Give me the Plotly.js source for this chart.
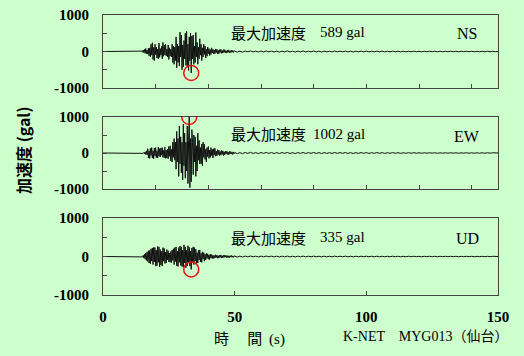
<!DOCTYPE html>
<html>
<head>
<meta charset="utf-8">
<script src="https://cdn.plot.ly/plotly-3.0.1.min.js"></script>
<style>html,body{margin:0;padding:0;background:#ccffcc;}#chart{width:524px;height:356px;}</style>
</head>
<body>
<div id="chart"></div>
<script>
// ---- data ----
const components = ['NS', 'EW', 'UD'];
const peakText = ['589 gal', '1002 gal', '335 gal'];
const xTickVals = [0, 50, 100, 150];
const yTickVals = [-1000, -500, 0, 500, 1000];
const yTickText = ['-1000', '', '0', '', '1000'];

const quietStart = 0;          // record start (s), quiet until fineStart
const fineStart = 14;          // s
const fineDt = 0.25;           // s
const tailStart = 50;          // s
const tailDt = 1;              // s
const recordEnd = 150;         // s

const nsFine = [
  0, 5, -5, 10,  -20, 40, -30, 60,  -50, 80, -60, 40,  -70, 90, -120, 100,
  -150, 200, -100, 240,  -220, 110, -250, 200,  -90, 120, -180, 60,  -200, 230, -160, 80,
  -100, 140, -200, 250,  -130, 180, -90, 200,  -120, 70, -150, 180,  -220, 100, -130, 60,
  -150, 200, -300, 150,  -350, 120, -250, 400,  -450, 200, -300, 150,  -400, 530, -150, 450,
  -500, 180, -420, 300,  -200, 500, -380, 550,  -420, 200, -520, 400,  -250, 500, -589, 420,
  -200, 450, -350, 150,  -300, 520, -150, 250,  -350, 120, -200, 350,  -100, 200, -250, 100,
  -150, 200, -80, 150,  -180, 60, -130, 120,  -60, 80, -110, 50,  -80, 100, -40, 60,
  -70, 40, -60, 70,  -30, 60, -70, 30,  -60, 50, -25, 60,  -50, 25, -45, 50,
  -25, 50, -35, 20,  -45, 35, -20, 45,  -35, 20, -30, 35,  -20, 30, -25, 20
];
const ewFine = [
  0, 0, 5, -5,  10, -10, 15, -20,  30, -40, 60, -50,  120, -140, 60, -150,
  130, -70, 150, -140,  60, -160, 140, -80,  150, -130, 60, -140,  160, -90, 120, -110,
  140, -60, 150, -120,  70, -130, 160, -150,  80, -140, 110, -160,  180, -90, 200, -220,
  100, -250, 300, -120,  400, -200, 300, -450,  600, -250, 400, -650,  750, -300, 450, -550,
  300, -750, 800, -350,  550, -700, 300, -500,  750, -850, 350, 1002,  -960, 400, -800, 650,
  300, -600, 500, -250,  450, -650, 200, -500,  550, -200, 350, -300,  150, -300, 250, -350,
  300, -120, 250, -180,  100, -250, 150, -100,  180, -150, 80, -120,  150, -70, 100, -140,
  120, -60, 130, -90,  50, -80, 90, -40,  80, -70, 40, -60,  70, -35, 60, -70,
  30, -50, 55, -25,  50, -40, 25, -50,  45, -25, 40, -30,  20, -40, 30, -20
];
const udFine = [
  0, 5, -5, 5,  -10, 30, -40, 60,  -70, 90, -100, 120,  -130, 150, -170, 160,
  -190, 200, -120, 220,  -210, 240, -140, 230,  -250, 160, -240, 260,  -150, 250, -270, 180,
  -220, 130, -250, 230,  -120, 210, -180, 110,  -170, 180, -90, 150,  -140, 90, -150, 130,
  -160, 170, -100, 200,  -210, 230, -130, 250,  -240, 140, -260, 230,  -150, 270, -230, 250,
  -260, 160, -280, 300,  -170, 250, -290, 160,  -240, 280, -150, 240,  -250, 140, -335, 220,
  -130, 250, -210, 230,  -120, 190, -210, 100,  -170, 160, -90, 170,  -140, 80, -150, 120,
  -70, 100, -120, 60,  -90, 80, -50, 70,  -70, 40, -80, 60,  -35, 50, -55, 30,
  -50, 25, -40, 45,  -25, 35, -45, 20,  -40, 35, -20, 40,  -35, 20, -35, 30,
  -20, 35, -18, 30,  -25, 20, -30, 18,  -28, 20, -15, 28,  -20, 15, -22, 16
];
const nsTail = [
  12, -15, 10, -18, 14, -10, 16, -12, 10, -15,  13, -11, 15, -9, 12, -14, 10, -16, 11, -10,
  14, -12, 9, -15, 11, -10, 13, -12, 10, -9,  12, -10, 9, -13, 10, -11, 8, -10, 12, -9,
  10, -8, 11, -10, 9, -12, 8, -9, 10, -8,  9, -10, 8, -9, 10, -8, 9, -10, 8, -9,
  10, -8, 9, -10, 8, -9, 8, -7, 9, -8,  7, -9, 8, -7, 9, -6, 8, -8, 7, -8,
  7, -6, 8, -7, 6, -8, 7, -6, 7, -6,  6, -7, 6, -7, 6, -6, 7, -6, 6, -6, 0
];
const ewTail = [
  15, -18, 12, -20, 16, -13, 18, -14, 12, -17,  15, -12, 17, -11, 14, -16, 12, -15, 13, -11,
  15, -14, 10, -16, 12, -11, 14, -13, 11, -10,  13, -11, 10, -14, 11, -12, 9, -11, 13, -10,
  11, -9, 12, -11, 10, -13, 9, -10, 11, -9,  10, -11, 9, -10, 11, -9, 10, -11, 9, -9,
  10, -9, 9, -10, 8, -9, 9, -8, 10, -8,  8, -9, 8, -7, 9, -7, 8, -9, 7, -8,
  8, -7, 8, -7, 7, -8, 7, -6, 8, -7,  7, -7, 6, -7, 7, -6, 7, -6, 6, -7, 0
];
const udTail = [
  12, -13, 10, -14, 11, -9, 13, -10, 9, -12,  11, -9, 12, -8, 10, -11, 9, -12, 10, -9,
  11, -10, 8, -11, 9, -8, 10, -9, 8, -8,  10, -8, 8, -10, 8, -9, 7, -8, 9, -8,
  8, -7, 9, -8, 8, -9, 7, -8, 8, -7,  8, -8, 7, -8, 8, -7, 7, -8, 7, -7,
  8, -7, 7, -8, 6, -7, 7, -6, 7, -6,  6, -7, 6, -6, 7, -6, 6, -6, 6, -6,
  6, -5, 6, -6, 5, -6, 5, -5, 6, -5,  5, -6, 5, -5, 5, -5, 5, -5, 5, -5, 0
];

// ---- build traces ----
function series(fine, tail) {
  const t = [quietStart], v = [0];
  fine.forEach((a, i) => { t.push(fineStart + i * fineDt); v.push(a); });
  tail.forEach((a, i) => { t.push(Math.min(tailStart + i * tailDt, recordEnd)); v.push(a); });
  return {t, v};
}
const allSeries = [series(nsFine, nsTail), series(ewFine, ewTail), series(udFine, udTail)];

const W = 524, H = 356;
const px = x => x / W, py = y => 1 - y / H;
const xDomain = [px(103), px(498)];
const yDomains = [[py(88), py(15)], [py(189), py(117)], [py(295), py(218)]];
const labelY = [32, 134, 237];
const compY = [33, 136, 238];

const traces = [], shapes = [], annotations = [];
const layout = {
  width: W, height: H,
  margin: {l: 0, r: 0, t: 0, b: 0},
  paper_bgcolor: '#ccffcc', plot_bgcolor: '#ccffcc',
  showlegend: false,
  font: {family: 'Liberation Serif, serif', size: 14, color: '#000'}
};

allSeries.forEach((s, k) => {
  const n = k === 0 ? '' : String(k + 1);
  traces.push({
    x: s.t, y: s.v, type: 'scatter', mode: 'lines',
    xaxis: 'x' + n, yaxis: 'y' + n,
    line: {color: '#111', width: 1}, hoverinfo: 'skip'
  });
  const last = k === 2;
  layout['xaxis' + n] = {
    domain: xDomain, anchor: 'y' + n, range: [0, 150],
    showgrid: false, zeroline: false,
    showline: true, mirror: true, linecolor: '#444', linewidth: 1,
    ticks: 'inside', ticklen: 4, tickcolor: '#444',
    tickmode: 'array',
    tickvals: last ? xTickVals : [20, 40, 60, 80, 100, 120, 140],
    showticklabels: last,
    ticklabelstandoff: 8,
    tickfont: {family: 'Liberation Serif, serif', size: 15, weight: 'bold', color: '#000'}
  };
  layout['yaxis' + n] = {
    domain: yDomains[k], anchor: 'x' + n, range: [-1000, 1000],
    showgrid: false, zeroline: false,
    showline: true, mirror: true, linecolor: '#444', linewidth: 1,
    ticks: 'inside', ticklen: 4, tickcolor: '#444',
    tickmode: 'array', tickvals: yTickVals, ticktext: yTickText,
    ticklabelstandoff: 10,
    tickfont: {family: 'Liberation Serif, serif', size: 15, weight: 'bold', color: '#000'}
  };
  // red circle at the peak absolute value
  let im = 0;
  s.v.forEach((a, i) => { if (Math.abs(a) > Math.abs(s.v[im])) im = i; });
  shapes.push({
    type: 'circle', xref: 'x' + n, yref: 'y' + n,
    xsizemode: 'pixel', ysizemode: 'pixel',
    xanchor: s.t[im], yanchor: s.v[im],
    x0: -7.5, x1: 7.5, y0: -7.5, y1: 7.5,
    line: {color: '#ee1111', width: 1.5}
  });
  annotations.push({
    xref: 'paper', yref: 'paper', x: px(229), y: py(labelY[k]),
    xanchor: 'left', yanchor: 'middle', showarrow: false,
    text: '最大加速度', font: {family: 'Noto Sans CJK JP', size: 15, color: '#000'}
  });
  annotations.push({
    xref: 'paper', yref: 'paper', x: px(367), y: py(labelY[k]),
    xanchor: 'right', yanchor: 'middle', showarrow: false,
    text: peakText[k], font: {family: 'Liberation Serif, serif', size: 15, color: '#000'}
  });
  annotations.push({
    xref: 'paper', yref: 'paper', x: px(467), y: py(compY[k]),
    xanchor: 'center', yanchor: 'middle', showarrow: false,
    text: components[k], font: {family: 'Liberation Serif, serif', size: 16, color: '#000'}
  });
});

annotations.push({
  xref: 'paper', yref: 'paper', x: px(23), y: py(151),
  xanchor: 'center', yanchor: 'middle', showarrow: false, textangle: -90,
  text: '加速度 (gal)', font: {family: 'Noto Sans CJK JP', size: 16, weight: 'bold', color: '#000'}
});
annotations.push({
  xref: 'paper', yref: 'paper', x: px(212), y: py(337),
  xanchor: 'left', yanchor: 'middle', showarrow: false,
  text: '時　 間&nbsp;&nbsp;<span style="font-family:Liberation Serif">(s)</span>',
  font: {family: 'Noto Sans CJK JP', size: 15, color: '#000'}
});
annotations.push({
  xref: 'paper', yref: 'paper', x: px(341), y: py(336),
  xanchor: 'left', yanchor: 'middle', showarrow: false,
  text: 'K-NET　MYG013（仙台）',
  font: {family: 'Liberation Serif, Noto Sans CJK JP', size: 14, color: '#000'}
});

layout.shapes = shapes;
layout.annotations = annotations;

Plotly.newPlot('chart', traces, layout, {staticPlot: true, displayModeBar: false});
</script>
</body>
</html>
